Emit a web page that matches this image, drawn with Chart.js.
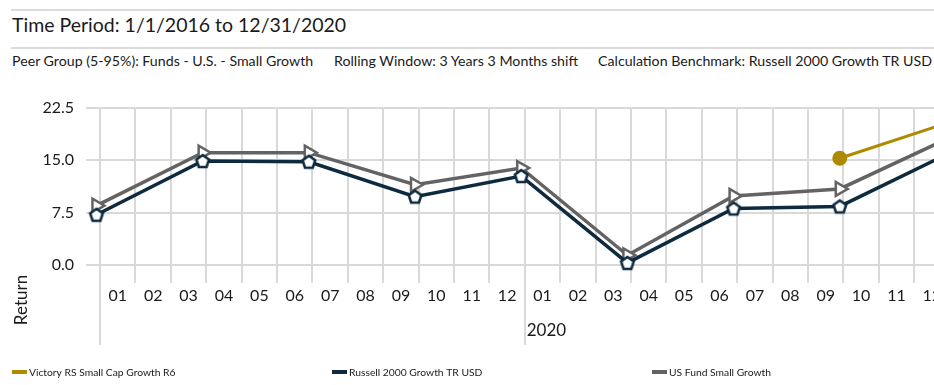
<!DOCTYPE html>
<html lang="en">
<head>
  <meta charset="UTF-8">
  <title>Rolling Returns</title>
  <script src="https://cdn.jsdelivr.net/npm/chart.js"></script>
  <style>
    body {
      margin: 0;
      background: #fff;
      font-family: Lato, sans-serif;
      color: #1a1a1a;
      overflow: hidden;
    }
    #wrap {
      position: relative;
      width: 934px;
      height: 385px;
      overflow: hidden;
    }
    .rule {
      position: absolute;
      left: 11px;
      right: 0;
      height: 2px;
      background: #dcdcdc;
    }
    .txt {
      position: absolute;
      white-space: nowrap;
      line-height: 1;
    }
    #chartBox {
      position: absolute;
      left: 0;
      top: 0;
      width: 960px;
      height: 385px;
    }
  </style>
</head>
<body>
  <div id="wrap">
    <div class="rule" style="top:9px"></div>
    <div class="txt" style="left:12px;top:15px;font-size:19.5px">Time Period: 1/1/2016 to 12/31/2020</div>
    <div class="rule" style="top:47px"></div>
    <div class="txt" style="left:12px;top:54px;font-size:14.2px">Peer Group (5-95%): Funds - U.S. - Small Growth</div>
    <div class="txt" style="left:334px;top:54px;font-size:14.2px">Rolling Window: 3 Years 3 Months shift</div>
    <div class="txt" style="left:598px;top:54px;font-size:14.2px">Calculation Benchmark: Russell 2000 Growth TR USD</div>
    <div id="chartBox"><canvas id="rollChart" width="960" height="385"></canvas></div>
  </div>

  <script>
    // x positions are months counted from Jan 2019 (quarter ends)
    const quarterEnds = [-0.1, 2.9, 5.9, 8.9, 11.9, 14.9, 17.9, 20.9, 23.9];
    const monthLabels = ['01','02','03','04','05','06','07','08','09','10','11','12'];
    const yearLabels = ['', '2020'];
    const yTicks = [0, 7.5, 15, 22.5];

    const victoryReturns = [null, null, null, null, null, null, null, 15.3, 20.3];
    const russellReturns = [7.2, 14.9, 14.8, 9.8, 12.75, 0.3, 8.1, 8.4, 15.8];
    const peerReturns    = [8.5, 16.1, 16.1, 11.5, 13.9, 1.4, 9.9, 10.9, 18.0];

    const GOLD = '#ae8a00';
    const NAVY = '#0d2a3f';
    const GREY = '#636363';
    const GRID = '#d9d9d9';
    const FONT = 'Lato, sans-serif';

    function toPoints(values) {
      return values.map((v, i) => ({ x: quarterEnds[i], y: v }));
    }

    // open pentagon marker for the benchmark
    function pentagon(color) {
      const c = document.createElement('canvas');
      c.width = 18; c.height = 18;
      const g = c.getContext('2d');
      g.beginPath();
      for (let k = 0; k < 5; k++) {
        const a = -Math.PI / 2 + k * 2 * Math.PI / 5;
        const px = 9 + 6.6 * Math.cos(a);
        const py = 9.6 + 6.6 * Math.sin(a);
        k === 0 ? g.moveTo(px, py) : g.lineTo(px, py);
      }
      g.closePath();
      g.fillStyle = '#fff';
      g.fill();
      g.lineWidth = 2.6;
      g.strokeStyle = color;
      g.stroke();
      return c;
    }

    const extras = {
      id: 'extras',
      afterDraw(chart) {
        const { ctx, chartArea, scales } = chart;
        const x = scales.x;
        ctx.save();
        // year group separators
        ctx.strokeStyle = GRID;
        ctx.lineWidth = 2;
        [0, 12, 24].forEach(m => {
          const px = Math.round(x.getPixelForValue(m));
          ctx.beginPath();
          ctx.moveTo(px, chartArea.bottom);
          ctx.lineTo(px, 345);
          ctx.stroke();
        });
        ctx.fillStyle = '#1a1a1a';
        ctx.font = '17px ' + FONT;
        ctx.textBaseline = 'middle';
        ctx.textAlign = 'left';
        yearLabels.forEach((lbl, i) => {
          if (lbl) ctx.fillText(lbl, x.getPixelForValue(i * 12) + 2, 331);
        });
        // axis title
        ctx.save();
        ctx.translate(22, 300);
        ctx.rotate(-Math.PI / 2);
        ctx.textAlign = 'center';
        ctx.fillText('Return', 0, 0);
        ctx.restore();
        // legend
        const slots = [12, 332, 652];
        ctx.font = '10.3px ' + FONT;
        chart.data.datasets.forEach((ds, i) => {
          ctx.fillStyle = ds.borderColor;
          ctx.fillRect(slots[i], 370, 15, 4);
          ctx.fillStyle = '#1a1a1a';
          ctx.fillText(ds.label, slots[i] + 17, 373);
        });
        ctx.restore();
      }
    };

    const chart = new Chart(document.getElementById('rollChart'), {
      type: 'line',
      data: {
        datasets: [{
          label: 'Victory RS Small Cap Growth R6',
          data: toPoints(victoryReturns),
          borderColor: GOLD,
          backgroundColor: GOLD,
          borderWidth: 3,
          pointRadius: 6,
          pointBackgroundColor: GOLD,
          pointBorderColor: GOLD
        }, {
          label: 'Russell 2000 Growth TR USD',
          data: toPoints(russellReturns),
          borderColor: NAVY,
          borderWidth: 3.5,
          pointStyle: pentagon(NAVY)
        }, {
          label: 'US Fund Small Growth',
          data: toPoints(peerReturns),
          borderColor: GREY,
          borderWidth: 3.5,
          pointStyle: 'triangle',
          rotation: 90,
          pointRadius: 8,
          pointBackgroundColor: '#fff',
          pointBorderColor: GREY,
          pointBorderWidth: 2.5
        }]
      },
      options: {
        responsive: false,
        animation: false,
        clip: false,
        layout: { padding: { top: 108, right: 7, left: 0, bottom: 0 } },
        plugins: {
          legend: { display: false },
          tooltip: { enabled: false }
        },
        scales: {
          x: {
            type: 'linear',
            min: 0,
            max: 24,
            afterFit: s => { s.height = 120; },
            border: { display: false },
            grid: { color: GRID, lineWidth: 2, tickLength: 18 },
            ticks: {
              stepSize: 1,
              autoSkip: false,
              maxRotation: 0,
              labelOffset: 17.8,
              padding: 3,
              color: '#1a1a1a',
              font: { family: FONT, size: 16 },
              callback: v => (v < 24 ? monthLabels[v % 12] : '')
            }
          },
          y: {
            min: 0,
            max: 22.5,
            afterFit: s => { s.width = 100; },
            afterBuildTicks: s => { s.ticks = yTicks.map(v => ({ value: v })); },
            border: { display: false },
            grid: { color: GRID, lineWidth: 2, tickLength: 14 },
            ticks: {
              padding: 12,
              color: '#1a1a1a',
              font: { family: FONT, size: 16 },
              callback: v => v.toFixed(1)
            }
          }
        }
      },
      plugins: [extras]
    });
  </script>
</body>
</html>
